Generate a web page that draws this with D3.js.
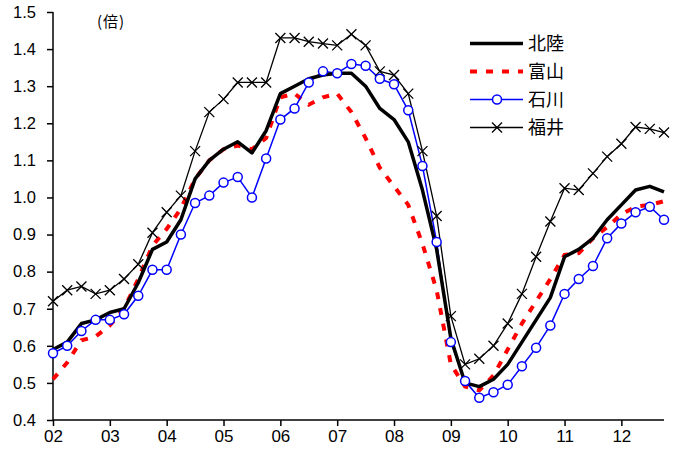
<!DOCTYPE html>
<html>
<head>
<meta charset="utf-8">
<script src="https://cdn.jsdelivr.net/npm/d3@7"></script>
<style>
body { margin: 0; background: #fff; }
text { font-family: "Liberation Sans", Arial, sans-serif; }
.jp { font-family: "Noto Sans CJK JP", sans-serif; }
</style>
</head>
<body>
<div id="chart"></div>
<script>
// quarterly jobs-to-applicants ratio, 2002 Q1 .. 2012 Q4
var startYear = 2002
var yearLabels = ["02","03","04","05","06","07","08","09","10","11","12"]
var yTicks = [0.4,0.5,0.6,0.7,0.8,0.9,1.0,1.1,1.2,1.3,1.4,1.5]

var hokuriku = [0.59,0.61,0.66,0.67,0.69,0.70,0.77,0.86,0.88,0.94,1.05,1.10,1.13,1.15,1.12,1.18,1.28,1.30,1.32,1.33,1.335,1.335,1.30,1.24,1.21,1.15,1.02,0.86,0.62,0.50,0.49,0.51,0.55,0.61,0.67,0.73,0.84,0.86,0.89,0.94,0.98,1.02,1.03,1.015]
var toyama = [0.51,0.555,0.615,0.625,0.655,0.70,0.78,0.87,0.915,0.97,1.05,1.10,1.13,1.14,1.13,1.16,1.27,1.28,1.25,1.27,1.28,1.23,1.16,1.08,1.03,0.98,0.875,0.75,0.55,0.49,0.48,0.52,0.59,0.66,0.72,0.78,0.845,0.85,0.89,0.92,0.955,0.975,0.98,0.99]
var ishikawa = [0.58,0.60,0.64,0.67,0.67,0.685,0.735,0.805,0.805,0.90,0.985,1.005,1.04,1.055,1.00,1.105,1.21,1.24,1.31,1.34,1.335,1.36,1.355,1.32,1.305,1.235,1.085,0.88,0.61,0.505,0.46,0.475,0.495,0.545,0.595,0.655,0.74,0.78,0.815,0.89,0.93,0.96,0.975,0.94]
var fukui = [0.72,0.75,0.76,0.74,0.75,0.78,0.82,0.905,0.96,1.005,1.125,1.23,1.265,1.31,1.31,1.31,1.43,1.43,1.42,1.415,1.41,1.44,1.41,1.34,1.33,1.28,1.125,0.95,0.68,0.55,0.565,0.60,0.66,0.74,0.84,0.935,1.025,1.02,1.065,1.11,1.145,1.19,1.185,1.175]

var width = 679, height = 452

var svg = d3.select("#chart")
	.append("svg")
	.attr("width", width)
	.attr("height", height)

var x = d3.scaleLinear().domain([startYear, startYear + 10.75]).range([53, 664])
var y = d3.scaleLinear().domain([0.4, 1.5]).range([420, 12])

function qx(d, i) { return x(startYear + i / 4) }

// axes
var yAxis = svg.append("g")
	.attr("transform", "translate(53,0)")
	.call(d3.axisLeft(y).tickValues(yTicks).tickFormat(d3.format(".1f")).tickSize(6).tickPadding(11))
yAxis.select(".domain").attr("d", "M0," + y(1.5) + "V" + y(0.4)).attr("stroke", "#000").attr("stroke-width", 1.5)
yAxis.selectAll(".tick line").attr("stroke", "#000").attr("stroke-width", 1.5)
yAxis.selectAll("text").attr("font-size", 16.5).attr("fill", "#000")

var xAxis = svg.append("g")
	.attr("transform", "translate(0,420)")
	.call(d3.axisBottom(x).tickValues(d3.range(startYear, startYear + yearLabels.length))
		.tickFormat(function(d, i) { return yearLabels[i] }).tickSize(6).tickPadding(4))
xAxis.select(".domain").attr("d", "M53,0H664").attr("stroke", "#000").attr("stroke-width", 1.5)
xAxis.selectAll(".tick line").attr("stroke", "#000").attr("stroke-width", 1.5)
xAxis.selectAll("text").attr("font-size", 17).attr("fill", "#000")

svg.append("text")
	.attr("class", "jp")
	.attr("x", 97)
	.attr("y", 27)
	.attr("font-size", 15)
	.attr("letter-spacing", 1)
	.text("(倍)")

var line = d3.line().x(qx).y(function(d) { return y(d) })

svg.append("path").datum(fukui)
	.attr("d", line).attr("fill", "none").attr("stroke", "#000").attr("stroke-width", 1.3)
svg.append("path").datum(toyama)
	.attr("d", line).attr("fill", "none").attr("stroke", "#ff0000").attr("stroke-width", 4)
	.attr("stroke-dasharray", "7,9")
svg.append("path").datum(ishikawa)
	.attr("d", line).attr("fill", "none").attr("stroke", "#0000ff").attr("stroke-width", 1.5)
svg.append("path").datum(hokuriku)
	.attr("d", line).attr("fill", "none").attr("stroke", "#000").attr("stroke-width", 3.5)
	.attr("stroke-linejoin", "round")

function cross(cx, cy, s) {
	return "M" + (cx - s) + "," + (cy - s) + "L" + (cx + s) + "," + (cy + s) +
		"M" + (cx - s) + "," + (cy + s) + "L" + (cx + s) + "," + (cy - s)
}

svg.selectAll(".fk")
	.data(fukui)
	.enter().append("path")
	.attr("class", "fk")
	.attr("d", function(d, i) { return cross(qx(d, i), y(d), 5) })
	.attr("stroke", "#000")
	.attr("stroke-width", 1.3)

svg.selectAll(".ik")
	.data(ishikawa)
	.enter().append("circle")
	.attr("class", "ik")
	.attr("cx", qx)
	.attr("cy", function(d) { return y(d) })
	.attr("r", 4.5)
	.attr("fill", "#fff")
	.attr("stroke", "#0000ff")
	.attr("stroke-width", 1.5)

// legend
var legend = [
	{name: "北陸", color: "#000", w: 3.5, dash: null, mark: null},
	{name: "富山", color: "#ff0000", w: 4, dash: "7,9", mark: null},
	{name: "石川", color: "#0000ff", w: 1.5, dash: null, mark: "circle"},
	{name: "福井", color: "#000", w: 1.3, dash: null, mark: "cross"}
]
var lg = svg.selectAll(".lg")
	.data(legend)
	.enter().append("g")
	.attr("class", "lg")
	.attr("transform", function(d, i) { return "translate(470," + (43.5 + i * 28) + ")" })
lg.append("line")
	.attr("x1", 0).attr("x2", 53)
	.attr("stroke", function(d) { return d.color })
	.attr("stroke-width", function(d) { return d.w })
	.attr("stroke-dasharray", function(d) { return d.dash })
lg.filter(function(d) { return d.mark == "circle" }).append("circle")
	.attr("cx", 27).attr("r", 4.5).attr("fill", "#fff").attr("stroke", "#0000ff").attr("stroke-width", 1.5)
lg.filter(function(d) { return d.mark == "cross" }).append("path")
	.attr("d", cross(27, 0, 5)).attr("stroke", "#000").attr("stroke-width", 1.3)
lg.append("text")
	.attr("class", "jp")
	.attr("x", 58)
	.attr("dy", "0.36em")
	.attr("font-size", 18)
	.text(function(d) { return d.name })
</script>
</body>
</html>
